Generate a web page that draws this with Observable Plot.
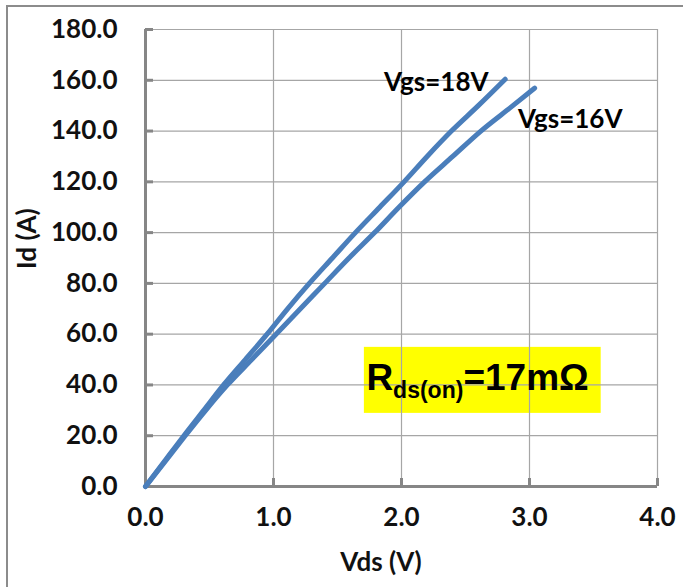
<!DOCTYPE html>
<html>
<head>
<meta charset="utf-8">
<script src="https://cdn.jsdelivr.net/npm/d3@7"></script>
<script src="https://cdn.jsdelivr.net/npm/@observablehq/plot@0.6"></script>
<style>
  html, body { margin: 0; padding: 0; background: #fff; }
  #wrap { position: relative; width: 683px; height: 587px; overflow: hidden; }
  #frame { position: absolute; left: 6px; top: 5px; width: 700px; height: 700px;
           border-top: 2px solid #8c8c8c; border-left: 2px solid #8c8c8c; pointer-events: none; }
</style>
</head>
<body>
<div id="wrap"><div id="frame"></div></div>
<script>
// ---- data ----
const vds18 = [0, 0.15, 0.30, 0.455, 0.61, 0.78, 0.95, 1.11, 1.28, 1.46, 1.64, 1.83, 2.02, 2.20, 2.39, 2.60, 2.81];
const id18  = [0, 10, 20, 30, 40, 50, 60, 70, 80, 90, 100, 110, 120, 130, 140, 150, 160.4];
const vds16 = [0, 0.155, 0.31, 0.47, 0.64, 0.83, 1.02, 1.21, 1.40, 1.59, 1.79, 1.98, 2.18, 2.40, 2.62, 2.87, 3.04];
const id16  = [0, 10, 20, 30, 40, 50, 60, 70, 80, 90, 100, 110, 120, 130, 140, 150, 156.9];
const seriesNames = ["Vgs=18V", "Vgs=16V"];
const xTicks = [0, 1, 2, 3, 4];
const yTicks = [0, 20, 40, 60, 80, 100, 120, 140, 160, 180];
const xTitle = "Vds (V)";
const yTitle = "Id (A)";
const rdsText = "Rds(on)=17mΩ";
// label anchors (data units)
const labelX = [2.68, 2.91];
const labelY = [159, 144.4];
// annotation box (data units)
const boxX = [1.71, 3.56];
const boxY = [28.8, 54.8];

const rows = [
  ...vds18.map((v, i) => ({series: seriesNames[0], vds: v, id: id18[i]})),
  ...vds16.map((v, i) => ({series: seriesNames[1], vds: v, id: id16[i]}))
];

const blue = "#4a7ebb";
const grid = "#a6a6a6";
const axisCol = "#868686";
const font = "Lato, 'Open Sans', sans-serif";
const fmt = d3.format(".1f");

const chart = Plot.plot({
  width: 683,
  height: 587,
  marginLeft: 145,
  marginRight: 26,
  marginTop: 29,
  marginBottom: 101,
  style: {fontFamily: font, fontWeight: "bold", color: "#111", background: "transparent", overflow: "visible"},
  x: {domain: [0, 4], axis: null},
  y: {domain: [0, 180], axis: null},
  marks: [
    Plot.rect([0], {x1: boxX[0], x2: boxX[1], y1: boxY[0], y2: boxY[1], fill: "#ffff00"}),
    Plot.ruleY(yTicks.slice(1), {stroke: grid, strokeWidth: 1.2}),
    Plot.ruleX(xTicks.slice(1), {stroke: grid, strokeWidth: 1.2}),
    Plot.ruleY(yTicks.slice(1), {x1: 0, x2: 0, insetRight: -8, stroke: axisCol, strokeWidth: 3}),
    Plot.ruleX(xTicks.slice(1), {y1: 0, y2: 0, insetTop: -8, stroke: axisCol, strokeWidth: 3}),
    Plot.ruleX([0], {stroke: axisCol, strokeWidth: 3}),
    Plot.ruleY([0], {stroke: axisCol, strokeWidth: 3}),
    Plot.line(rows, {x: "vds", y: "id", z: "series", stroke: blue, strokeWidth: 5, curve: "monotone-x", strokeLinecap: "round", strokeLinejoin: "round"}),
    // tick labels
    Plot.text(xTicks, {x: d => d, frameAnchor: "bottom", dy: 39, text: fmt, fontSize: 26, fill: "#111"}),
    Plot.text(yTicks, {y: d => d, frameAnchor: "left", dx: -28, textAnchor: "end", text: fmt, fontSize: 26, fill: "#111"}),
    // series labels
    Plot.text([0], {x: labelX[0], y: labelY[0], text: () => seriesNames[0], textAnchor: "end", fontSize: 26, fill: "#000"}),
    Plot.text([0], {x: labelX[1], y: labelY[1], text: () => seriesNames[1], textAnchor: "start", fontSize: 26, fill: "#000"}),
    Plot.text([rdsText], {x: boxX[0], y: (boxY[0] + boxY[1]) / 2, text: d => d, textAnchor: "start", dx: 2, dy: -2, fontFamily: "'Liberation Sans', Arial, sans-serif", fontWeight: "bold", fontSize: 37, fill: "#000"}),
    // axis titles
    Plot.text([xTitle], {x: 1.84, frameAnchor: "bottom", dy: 84, text: d => d, fontSize: 26, fill: "#111"}),
    Plot.text([yTitle], {frameAnchor: "left", dx: -118, dy: 11, rotate: -90, text: d => d, fontSize: 26, fill: "#111"})
  ]
});

// rich text for the R_ds(on) annotation
d3.select(chart).selectAll("text").filter(function () { return this.textContent === rdsText; }).each(function () {
  const t = d3.select(this);
  t.text(null);
  t.append("tspan").text("R");
  t.append("tspan").attr("font-size", 23).attr("dy", 8).text("ds(on)");
  t.append("tspan").attr("dy", -8).text("=17mΩ");
});

document.getElementById("wrap").prepend(chart);
</script>
</body>
</html>
